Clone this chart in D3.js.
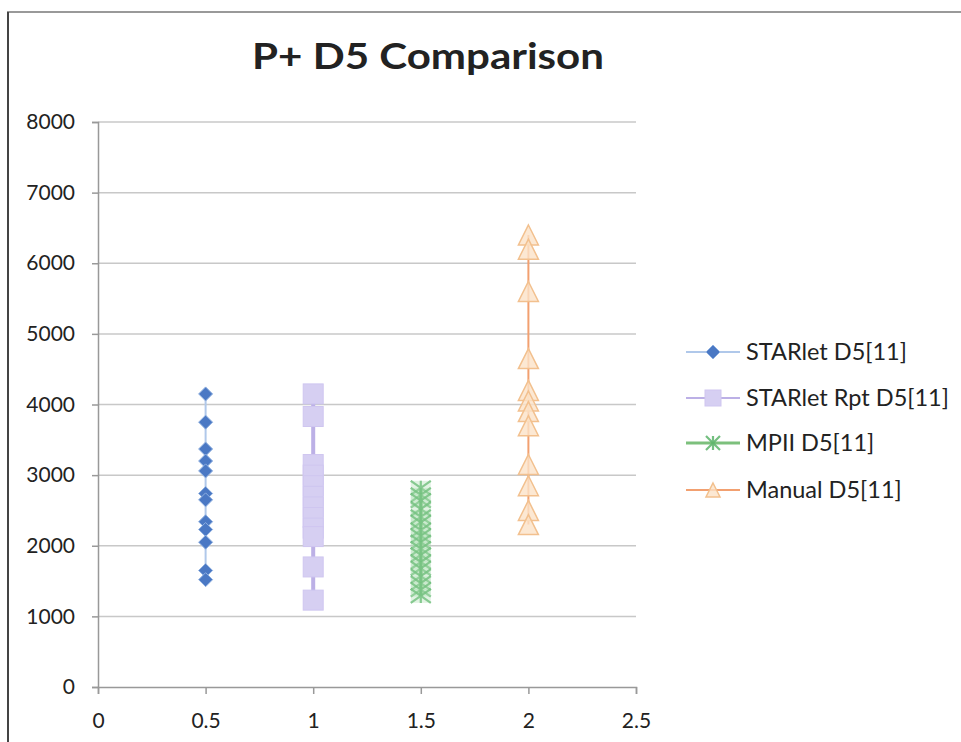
<!DOCTYPE html>
<html><head><meta charset="utf-8">
<script src="https://cdn.jsdelivr.net/npm/d3@7"></script>
<style>body{margin:0;background:#fff}svg{display:block}</style>
</head><body>
<svg id="c" width="961" height="742"></svg>
<script>
const title = "P+ D5 Comparison";
const seriesNames = ["STARlet D5[11]", "STARlet Rpt D5[11]", "MPII D5[11]", "Manual D5[11]"];
const seriesX = [0.5, 1, 1.5, 2];
const starlet = [4150, 3750, 3370, 3200, 3060, 2740, 2650, 2340, 2230, 2050, 1650, 1520];
const starletRpt = [4150, 3830, 3150, 3000, 2850, 2700, 2550, 2400, 2250, 2130, 1700, 1230];
const mpii = [2820, 2720, 2640, 2520, 2410, 2330, 2220, 2140, 2050, 1960, 1870, 1770, 1680, 1570, 1470, 1380, 1290];
const manual = [6400, 6200, 5600, 4650, 4200, 4050, 3900, 3700, 3150, 2850, 2500, 2300];
const xTicks = [0, 0.5, 1, 1.5, 2, 2.5];
const yTicks = [0, 1000, 2000, 3000, 4000, 5000, 6000, 7000, 8000];

const svg = d3.select("#c");
const font = "Lato, 'Open Sans', sans-serif";
// frame
svg.append("line").attr("x1",7).attr("x2",961).attr("y1",12).attr("y2",12).attr("stroke","#999").attr("stroke-width",2);
svg.append("line").attr("x1",8).attr("x2",8).attr("y1",12).attr("y2",742).attr("stroke","#444").attr("stroke-width",2);

const x = d3.scaleLinear().domain([0,2.5]).range([98,636]);
const y = d3.scaleLinear().domain([0,8000]).range([687,122]);

svg.append("text").attr("x",428).attr("y",69).attr("text-anchor","middle")
  .attr("font-family",font).attr("font-weight","bold").attr("font-size",36)
  .attr("textLength",352).attr("lengthAdjust","spacingAndGlyphs")
  .attr("fill","#222").text(title);

// grid
svg.append("g").selectAll("line").data(yTicks.slice(1)).join("line")
  .attr("x1",x(0)).attr("x2",x(2.5)).attr("y1",d=>y(d)).attr("y2",d=>y(d))
  .attr("stroke","#c8c8c8").attr("stroke-width",1.5);

const yAxis = svg.append("g").attr("transform",`translate(${x(0)},0)`)
  .call(d3.axisLeft(y).tickValues(yTicks).tickSize(6).tickPadding(17).tickFormat(d3.format("d")));
const xAxis = svg.append("g").attr("transform",`translate(0,${y(0)})`)
  .call(d3.axisBottom(x).tickValues(xTicks).tickSize(7).tickPadding(19).tickFormat(d=>String(d)));
[yAxis,xAxis].forEach(a=>{
  a.select(".domain").attr("stroke","#999").attr("stroke-width",1.5);
  a.selectAll(".tick line").attr("stroke","#999").attr("stroke-width",1.5);
  a.selectAll("text").attr("font-family",font).attr("font-size",21).attr("fill","#222");
});

const data = [
  {vals: starlet, line:"#b0c8ea", lw:2, marker:"diamond"},
  {vals: starletRpt, line:"#bcb0e6", lw:4, marker:"square"},
  {vals: mpii, line:"#7cc07c", lw:4, marker:"star"},
  {vals: manual, line:"#f2a070", lw:2, marker:"triangle"}
];

function drawMarker(g, type, cx, cy, legend){
  if(type==="diamond"){
    const s = 7;
    g.append("path").attr("d",`M${cx},${cy-s}L${cx+s},${cy}L${cx},${cy+s}L${cx-s},${cy}Z`)
      .attr("fill","#4a78c4").attr("stroke","#8fb0e0").attr("stroke-width",1);
  } else if(type==="square"){
    const s = legend?8:10;
    g.append("rect").attr("x",cx-s).attr("y",cy-s).attr("width",2*s).attr("height",2*s)
      .attr("fill","#d6cff2").attr("stroke","#cfc6f0").attr("stroke-width",1);
  } else if(type==="star"){
    const w = legend?7:10, h=7;
    g.append("path").attr("d",`M${cx-w},${cy-h}L${cx+w},${cy+h}M${cx+w},${cy-h}L${cx-w},${cy+h}M${cx},${cy-h}L${cx},${cy+h}`)
      .attr("stroke","#5cb46a").attr("stroke-width",2.2).attr("fill","none").attr("opacity",0.85);
    if(!legend) g.append("rect").attr("x",cx-w).attr("y",cy-h).attr("width",2*w).attr("height",2*h)
      .attr("fill","#a8dcae").attr("opacity",0.35);
  } else if(type==="triangle"){
    const s = legend?7:10;
    g.append("path").attr("d",`M${cx},${cy-s}L${cx+s},${cy+s}L${cx-s},${cy+s}Z`)
      .attr("fill","#fbe2c8").attr("fill-opacity",0.8).attr("stroke","#f2c08e").attr("stroke-width",1.5);
  }
}

data.forEach((s,i)=>{
  const xv = seriesX[i];
  const g = svg.append("g");
  g.append("path").datum(s.vals)
    .attr("d", d3.line().x(()=>x(xv)).y(d=>y(d)))
    .attr("stroke", s.line).attr("stroke-width", s.lw).attr("fill","none");
  s.vals.forEach(v=>drawMarker(g, s.marker, x(xv), y(v), false));
});

// legend
const legY = [352, 398, 443, 490];
seriesNames.forEach((n,i)=>{
  const g = svg.append("g");
  const yy = legY[i];
  g.append("line").attr("x1",686).attr("x2",740).attr("y1",yy).attr("y2",yy)
    .attr("stroke",data[i].line).attr("stroke-width",i===2?3:2);
  drawMarker(g, data[i].marker, 713, yy, true);
  g.append("text").attr("x",746).attr("y",yy+8).attr("font-family",font).attr("font-size",23.5)
    .attr("fill","#222").text(n);
});
</script>
</body></html>
